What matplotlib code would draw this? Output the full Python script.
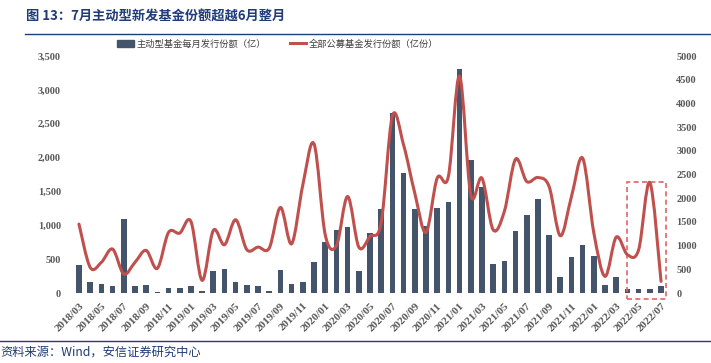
import matplotlib
matplotlib.use("Agg")
import matplotlib.pyplot as plt
import numpy as np
from matplotlib.path import Path
from matplotlib.patches import PathPatch, Rectangle
from matplotlib.lines import Line2D
from matplotlib.ticker import FuncFormatter

plt.rcParams['font.family'] = ['Noto Sans CJK SC', 'DejaVu Sans']

months = [f"{y}/{m:02d}" for y in range(2018, 2023) for m in range(1, 13)]
months = months[months.index("2018/03"):months.index("2022/07") + 1]

active = [413, 157, 133, 103, 1087, 103, 123, 15, 79, 79, 103, 25,
          324, 354, 157, 123, 103, 34, 334, 138, 167, 462, 747, 929,
          969, 324, 885, 1239, 2665, 1770, 1239, 993, 1254, 1342, 3304, 1967,
          1563, 428, 477, 919, 1150, 1386, 860, 231, 531, 703, 551, 113,
          241, 64, 64, 64, 108]

total = [1454, 541, 646, 927, 400, 646, 899, 520, 1278, 1264, 1510, 267,
         1320, 1018, 1545, 913, 969, 948, 1805, 1039, 2282, 3146, 1229, 997,
         2036, 969, 1194, 1489, 3736, 3125, 2107, 1278, 2423, 2458, 4578, 2071,
         2423, 1334, 1720, 2823, 2352, 2437, 2247, 1208, 2036, 2844, 1264, 351,
         1180, 808, 913, 2331, 246]

bar_label = "主动型基金每月发行份额（亿）"
line_label = "全部公募基金发行份额（亿份）"
title = "图 13：7月主动型新发基金份额超越6月整月"
source = "资料来源：Wind，安信证券研究中心"

bar_color = "#44546A"
line_color = "#C0504D"
navy = "#1F3B78"
tick_color = "#595959"

fig = plt.figure(figsize=(7.11, 3.63), dpi=100)
ax = fig.add_axes([0.1032, 0.1928, 0.8344, 0.6529])
ax2 = ax.twinx()

x = np.arange(len(months))
ax.bar(x, active, width=0.5, color=bar_color, zorder=2)
ax.set_xlim(-0.5, len(months) - 0.5)
ax.set_ylim(0, 3500)
ax2.set_ylim(0, 5000)

# smooth line (Excel-style Catmull-Rom -> Bezier)
pts = np.column_stack([x, np.array(total, dtype=float)])
verts = [pts[0]]
codes = [Path.MOVETO]
n = len(pts)
for i in range(n - 1):
    p0 = pts[i - 1] if i > 0 else pts[i]
    p1 = pts[i]
    p2 = pts[i + 1]
    p3 = pts[i + 2] if i + 2 < n else pts[i + 1]
    c1 = p1 + (p2 - p0) / 6.0
    c2 = p2 - (p3 - p1) / 6.0
    verts += [c1, c2, p2]
    codes += [Path.CURVE4] * 3
ax2.add_patch(PathPatch(Path(verts, codes), facecolor='none', edgecolor=line_color,
                        lw=2.2, capstyle='round', joinstyle='round', zorder=3))

# tick styling
serif = dict(family='Liberation Serif', weight='bold')
ax.set_yticks(np.arange(0, 3501, 500))
ax.yaxis.set_major_formatter(FuncFormatter(lambda v, p: f"{int(v):,}"))
ax2.set_yticks(np.arange(0, 5001, 500))
ax2.yaxis.set_major_formatter(FuncFormatter(lambda v, p: f"{int(v)}"))
ax.set_xticks(x[::2])
ax.set_xticklabels(months[::2], rotation=45, ha='right', va='top',
                   rotation_mode='anchor', fontsize=8, color=tick_color, **serif)
for lab in ax.get_yticklabels():
    lab.set_fontsize(7.5); lab.set_color(tick_color); lab.set_family('Liberation Serif'); lab.set_weight('bold')
for lab in ax2.get_yticklabels():
    lab.set_fontsize(7.5); lab.set_color(tick_color); lab.set_family('Liberation Serif'); lab.set_weight('bold')
ax.tick_params(axis='y', length=0, pad=9)
ax2.tick_params(axis='y', length=0, pad=7)
ax.tick_params(axis='x', length=0, pad=6)
for a in (ax, ax2):
    for s in a.spines.values():
        s.set_visible(False)

# dashed highlight box
ax.add_patch(Rectangle((48.95, -90), 3.45, 1730, fill=False, edgecolor="#E06666",
                       linestyle=(0, (3, 2)), lw=1.2, clip_on=False, zorder=4))

# legend
handles = [Rectangle((0, 0), 1, 1, color=bar_color),
           Line2D([0], [0], color=line_color, lw=2.2)]
fig.legend(handles, [bar_label, line_label], loc='center', ncol=2,
           bbox_to_anchor=(0.391, 0.879), frameon=False, fontsize=6.7,
           labelcolor="#404040", handlelength=1.8, handleheight=0.7,
           columnspacing=2.5, handletextpad=0.3)

# title and rules
fig.text(0.037, 0.953, title, fontsize=9.5, fontweight='bold', color=navy,
         ha='left', va='center')
fig.add_artist(Line2D([0.035, 1.0], [0.906, 0.906], color=navy, lw=1.0,
                      transform=fig.transFigure))
fig.add_artist(Line2D([0.0, 1.0], [0.061, 0.061], color=navy, lw=1.0,
                      transform=fig.transFigure))
fig.text(0.0, 0.030, source, fontsize=8.8, color=navy, ha='left', va='center',
         style='italic')

fig.savefig("out.png", dpi=100)
